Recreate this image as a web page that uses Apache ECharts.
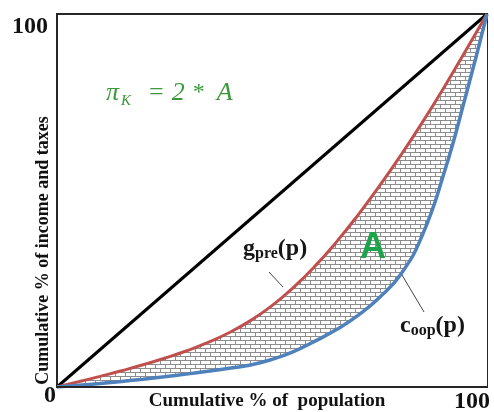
<!DOCTYPE html>
<html><head><meta charset="utf-8">
<script src="https://cdn.jsdelivr.net/npm/echarts@6/dist/echarts.min.js"></script>
<style>html,body{margin:0;padding:0;background:#fff}#c{width:494px;height:412px}</style>
</head><body><div id="c"></div>
<script>
// Cumulative % of population
const popShare   = [0, 5, 10, 15, 20, 25, 30, 35, 40, 45, 50, 55, 60, 65, 70, 75, 80, 85, 90, 95, 100];
// g_pre(p): pre-tax income concentration curve
const grossPre   = [0, 1.4, 2.85, 4.35, 5.95, 7.7, 9.65, 11.9, 14.55, 17.8, 21.8, 26.7, 32.4, 38.9, 46.1, 53.9, 62.2, 71.0, 80.3, 90.1, 100];
// c_oop(p): out-of-pocket concentration curve
const coopCurve  = [0, 0.45, 0.95, 1.5, 2.1, 2.75, 3.45, 4.2, 5.0, 5.9, 7.4, 9.5, 12.3, 15.4, 19.2, 24.0, 30.3, 40.8, 57.3, 77.8, 100];
// line of equality
const equalityX  = [0, 100];
const equalityY  = [0, 100];
// tick labels
const xTickVals  = [0, 100];
const yTickVals  = [100];

const serif = "'Liberation Serif','Times New Roman','DejaVu Serif',serif";

function brickPattern() {
  const c = document.createElement('canvas');
  c.width = 10; c.height = 8;
  const g = c.getContext('2d');
  g.fillStyle = '#ffffff'; g.fillRect(0, 0, 10, 8);
  g.strokeStyle = '#8c8c8c'; g.lineWidth = 1;
  g.beginPath();
  g.moveTo(0, 0.5); g.lineTo(10, 0.5);
  g.moveTo(0, 4.5); g.lineTo(10, 4.5);
  g.moveTo(0.5, 0); g.lineTo(0.5, 4.5);
  g.moveTo(5.5, 4.5); g.lineTo(5.5, 8);
  g.stroke();
  return c;
}

const redPts  = popShare.map((x, i) => [x, grossPre[i]]);
const bluePts = popShare.map((x, i) => [x, coopCurve[i]]);
const eqPts   = equalityX.map((x, i) => [x, equalityY[i]]);

const chart = echarts.init(document.getElementById('c'), null, {renderer: 'canvas'});
const SM = 0.5;
const common = {type: 'line', smooth: SM, symbol: 'none', silent: true};
chart.setOption({
  animation: false,
  grid: {left: 57, right: 7, top: 14, bottom: 25, containLabel: false, outerBoundsMode: 'none',
         show: true, borderColor: '#262626', borderWidth: 2, backgroundColor: '#fff'},
  xAxis: {
    type: 'value', min: 0, max: 100, z: 10,
    splitLine: {show: false}, axisTick: {show: false},
    axisLine: {show: true, lineStyle: {color: '#262626', width: 2}},
    axisLabel: {
      customValues: xTickVals, margin: -3,
      formatter: v => v === 0 ? '{z|0}' : '{h|100}',
      rich: {
        z: {fontFamily: serif, fontWeight: 'bold', fontSize: 24, color: '#111', padding: [0, 14, 0, 0]},
        h: {fontFamily: serif, fontWeight: 'bold', fontSize: 24, color: '#111', padding: [6, 30, 0, 0]}
      }
    },
    name: 'Cumulative % of  population', nameLocation: 'middle', nameGap: 5, nameMoveOverlap: false,
    nameTextStyle: {fontFamily: serif, fontWeight: 'bold', fontSize: 19, color: '#111', padding: [0, 10, 0, 0]}
  },
  yAxis: {
    type: 'value', min: 0, max: 100,
    splitLine: {show: false}, axisTick: {show: false}, axisLine: {show: false},
    axisLabel: {
      customValues: yTickVals, margin: 9,
      formatter: v => '{h|' + v + '}',
      rich: {h: {fontFamily: serif, fontWeight: 'bold', fontSize: 24, color: '#111', padding: [26, 0, 0, 0]}}
    },
    name: 'Cumulative % of income and taxes', nameLocation: 'middle', nameGap: 5, nameRotate: 90, nameMoveOverlap: false,
    nameTextStyle: {fontFamily: serif, fontWeight: 'bold', fontSize: 18, color: '#111', padding: [0, 100, 0, 0]}
  },
  series: [
    Object.assign({}, common, {data: redPts, lineStyle: {opacity: 0}, z: 1,
      areaStyle: {color: {image: brickPattern(), repeat: 'repeat'}, opacity: 1}}),
    Object.assign({}, common, {data: bluePts, lineStyle: {opacity: 0}, z: 1,
      areaStyle: {color: '#ffffff', opacity: 1}}),
    {type: 'line', data: eqPts, symbol: 'none', silent: true, lineStyle: {color: '#000', width: 3}, z: 3},
    Object.assign({}, common, {data: redPts, lineStyle: {color: '#c0504d', width: 3}, z: 4}),
    Object.assign({}, common, {data: bluePts, lineStyle: {color: '#4f81bd', width: 3.5}, z: 4})
  ],
  graphic: [
    {type: 'text', left: 106, top: 80, z: 10, style: {
      text: '{a|π}{k|K}{e|=}{a|2}{s|*}{a|A}', fill: '#3a9a3a',
      rich: {a: {fontFamily: serif, fontStyle: 'italic', fontSize: 26, fill: '#3a9a3a', padding: [0, 0, 0, 8]},
             k: {fontFamily: serif, fontStyle: 'italic', fontSize: 15, fill: '#3a9a3a', padding: [16, 0, 0, 2]},
             e: {fontFamily: serif, fontSize: 26, fill: '#3a9a3a', padding: [0, 0, 0, 18]},
             s: {fontFamily: serif, fontSize: 24, fill: '#3a9a3a', padding: [0, 4, 0, 8]}}}},
    {type: 'text', left: 360, top: 230, z: 10, style: {
      text: 'A', fill: '#1fa34a', fontFamily: "'Liberation Sans',Arial,sans-serif", fontWeight: 'bold', fontSize: 36}},
    {type: 'text', left: 243, top: 237, z: 10, style: {
      text: '{g|g}{s|pre}{b|(p)}', fill: '#151515',
      rich: {g: {fontFamily: serif, fontWeight: 'bold', fontSize: 24, fill: '#151515'},
             s: {fontFamily: serif, fontWeight: 'bold', fontSize: 16, fill: '#151515', padding: [10, 0, 0, 0]},
             b: {fontFamily: serif, fontWeight: 'bold', fontSize: 24, fill: '#151515'}}}},
    {type: 'text', left: 400, top: 314, z: 10, style: {
      text: '{g|c}{s|oop}{b|(p)}', fill: '#151515',
      rich: {g: {fontFamily: serif, fontWeight: 'bold', fontSize: 24, fill: '#151515'},
             s: {fontFamily: serif, fontWeight: 'bold', fontSize: 16, fill: '#151515', padding: [10, 0, 0, 0]},
             b: {fontFamily: serif, fontWeight: 'bold', fontSize: 24, fill: '#151515'}}}},
    {type: 'line', z: 10, shape: {x1: 269, y1: 272, x2: 283, y2: 287}, style: {stroke: '#444', lineWidth: 1}},
    {type: 'line', z: 10, shape: {x1: 402, y1: 275, x2: 424, y2: 312}, style: {stroke: '#444', lineWidth: 1}}
  ]
});
</script>
</body></html>
